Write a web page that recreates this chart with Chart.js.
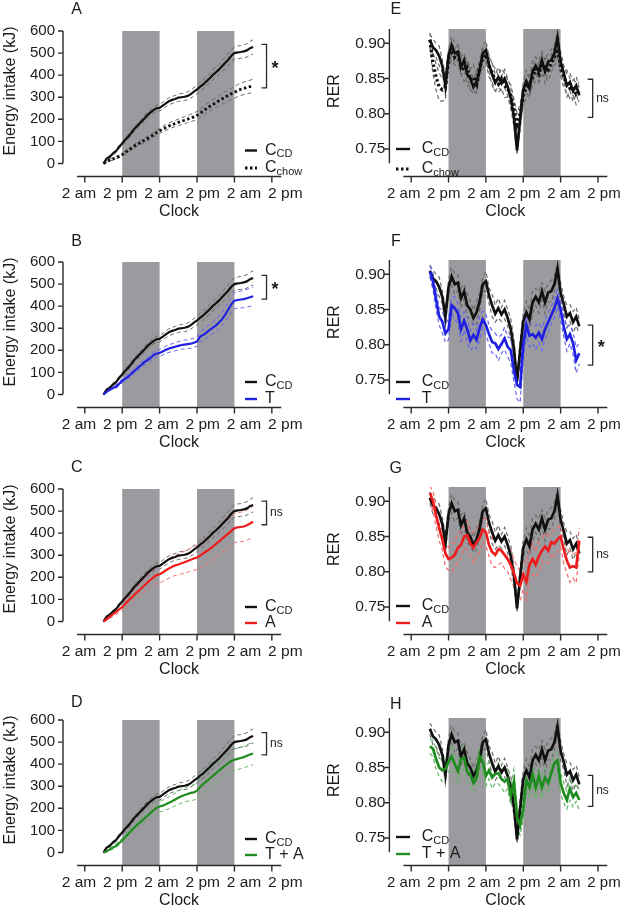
<!DOCTYPE html>
<html>
<head>
<meta charset="utf-8">
<script src="https://cdn.jsdelivr.net/npm/chart.js@4.4.1/dist/chart.umd.min.js"></script>
<style>
  body { margin: 0; background: #fff; width: 629px; height: 912px; overflow: hidden; position: relative; }
  canvas { position: absolute; }
</style>
</head>
<body>
<script>
// ---- data (hours counted from the first "2 am") ----
const HOURS = [6,7,8,9,10,11,12,13,14,15,16,17,18,19,20,21,22,23,24,25,26,27,28,29,30,
               31,32,33,34,35,36,37,38,39,40,41,42,43,44,45,46,47,48,49,50,51,52,53,54];
const TICK_HOURS = [0, 12, 24, 36, 48, 60];
const TICK_LABELS = ["2 am", "2 pm", "2 am", "2 pm", "2 am", "2 pm"];
const DARK_START = [12, 36];
const DARK_END = [24, 48];
const ENERGY_TICKS = [0, 100, 200, 300, 400, 500, 600];
const RER_TICKS = [0.75, 0.80, 0.85, 0.90];

// energy intake (kJ), mean and SEM
const ccdEnergy = [0,22,30,45,55,75,90,108,122,140, 158,172,188,202,218,230,242,250,252,262,
                   272,282,288,292,298,300,302,306,314,325, 335,348,358,372,385,400,412,425,440,455,
                   470,488,500,503,505,508,512,522,528];
const ccdEnergySem = [2,4,5,6,6,7,8,9,10,10, 11,11,12,12,13,13,14,14,15,15, 15,16,16,16,17,17,17,18,18,19,
                      19,20,20,21,22,22,23,24,25,26, 27,28,28,29,29,30,30,31,32];
const chowEnergy = [0,8,15,20,26,32,40,50,60,70, 80,88,96,104,112,120,130,140,148,156,
                    163,170,176,181,186,191,196,201,206,211, 218,228,238,248,258,266,275,284,292,300,
                    308,316,322,330,336,340,344,348,352];
const chowEnergySem = [1,3,4,5,5,6,6,7,7,8, 8,9,9,10,10,11,11,12,12,13, 13,14,14,14,15,15,16,16,17,17,
                       18,19,19,20,21,21,22,23,24,25, 25,26,27,27,28,28,29,29,30];
const tEnergy = [0,12,22,30,35,48,62,72,82,95, 108,120,132,145,155,165,178,185,188,195,
                 202,208,212,216,220,224,226,228,230,234, 240,262,270,280,292,302,312,325,340,360,
                 385,408,425,428,430,432,436,440,445];
const tEnergySem = [2,4,5,6,7,8,9,10,10,11, 12,12,13,13,14,14,15,15,16,16, 17,17,18,18,19,19,20,20,21,21,
                    22,23,24,25,26,27,28,29,30,32, 34,35,36,37,38,39,40,41,42];
const aEnergy = [0,10,22,32,42,55,65,80,95,108, 122,135,148,162,175,188,200,210,214,222,
                 232,240,248,254,258,264,268,274,280,285, 290,298,308,318,328,338,350,362,374,386,
                 398,410,422,426,428,430,436,444,452];
const aEnergySem = [3,6,8,10,12,13,15,17,19,21, 23,25,27,29,31,33,35,37,40,41, 42,44,45,46,47,48,50,51,52,53,
                    55,56,57,58,59,60,61,62,63,64, 64,65,65,66,67,68,68,69,70];
const taEnergy = [0,6,14,22,30,42,55,70,85,100, 114,128,140,152,165,178,190,202,208,212,
                  218,225,232,240,248,255,260,265,270,272, 280,296,310,322,334,346,358,370,382,394,
                  405,414,420,424,428,432,438,444,448];
const taEnergySem = [2,4,5,7,8,9,10,12,13,14, 15,16,17,18,19,20,21,22,24,25, 26,27,28,29,30,31,32,33,34,35,
                     36,37,38,39,40,41,42,43,44,45, 46,47,48,48,49,49,50,50,51];

// RER, mean and SEM
const ccdRer = [0.905,0.894,0.890,0.882,0.868,0.840,0.882,0.897,0.886,0.888,
                0.866,0.876,0.856,0.850,0.838,0.846,0.862,0.886,0.890,0.870,
                0.856,0.844,0.852,0.843,0.850,0.838,0.822,0.795,0.748,0.792,
                0.834,0.846,0.836,0.860,0.868,0.860,0.876,0.860,0.874,0.876,
                0.886,0.908,0.874,0.858,0.840,0.845,0.832,0.840,0.826];
const ccdRerSem = [0.008,0.012,0.010,0.014,0.009,0.012,0.010,0.013,0.015,0.011,
                   0.014,0.010,0.016,0.012,0.011,0.015,0.012,0.010,0.014,0.011,
                   0.016,0.012,0.014,0.010,0.013,0.012,0.015,0.012,0.006,0.014,
                   0.011,0.016,0.013,0.017,0.012,0.015,0.012,0.016,0.013,0.015,
                   0.012,0.010,0.014,0.011,0.016,0.012,0.015,0.013,0.010];
const chowRer = [0.905,0.872,0.852,0.838,0.834,0.838,0.878,0.890,0.880,0.884,
                 0.870,0.862,0.866,0.848,0.852,0.842,0.866,0.878,0.884,0.868,
                 0.858,0.848,0.842,0.850,0.840,0.836,0.826,0.808,0.785,0.800,
                 0.826,0.838,0.842,0.852,0.864,0.856,0.870,0.866,0.862,0.872,
                 0.880,0.892,0.868,0.850,0.846,0.836,0.838,0.828,0.832];
const chowRerSem = [0.010,0.016,0.018,0.020,0.016,0.018,0.012,0.014,0.011,0.015,
                    0.013,0.016,0.012,0.015,0.018,0.013,0.011,0.014,0.012,0.015,
                    0.013,0.016,0.012,0.014,0.017,0.012,0.015,0.013,0.016,0.014,
                    0.012,0.016,0.014,0.013,0.017,0.012,0.015,0.013,0.016,0.012,
                    0.014,0.012,0.015,0.013,0.016,0.014,0.012,0.015,0.013];
const tRer = [0.904,0.890,0.864,0.840,0.833,0.816,0.822,0.856,0.852,0.845,
              0.822,0.834,0.822,0.806,0.814,0.807,0.824,0.836,0.828,0.815,
              0.804,0.802,0.794,0.801,0.809,0.797,0.792,0.764,0.743,0.740,
              0.800,0.828,0.813,0.815,0.810,0.817,0.808,0.822,0.832,0.842,
              0.852,0.866,0.850,0.826,0.808,0.815,0.802,0.778,0.788];
const tRerSem = [0.008,0.012,0.014,0.012,0.016,0.013,0.015,0.012,0.016,0.014,
                 0.017,0.013,0.018,0.014,0.016,0.013,0.017,0.012,0.015,0.013,
                 0.016,0.014,0.017,0.013,0.016,0.014,0.018,0.016,0.020,0.022,
                 0.020,0.014,0.016,0.013,0.017,0.014,0.016,0.013,0.015,0.012,
                 0.014,0.012,0.016,0.014,0.017,0.013,0.016,0.018,0.015];
const aRer = [0.912,0.900,0.880,0.862,0.846,0.826,0.818,0.820,0.824,0.834,
              0.838,0.850,0.852,0.840,0.834,0.842,0.848,0.860,0.856,0.838,
              0.828,0.824,0.832,0.830,0.824,0.818,0.810,0.798,0.784,0.780,
              0.796,0.786,0.810,0.818,0.810,0.822,0.830,0.836,0.830,0.842,
              0.840,0.846,0.850,0.832,0.816,0.806,0.808,0.806,0.844];
const aRerSem = [0.010,0.014,0.016,0.018,0.015,0.019,0.016,0.020,0.017,0.021,
                 0.018,0.016,0.020,0.017,0.022,0.018,0.021,0.017,0.019,0.016,
                 0.020,0.018,0.022,0.017,0.020,0.018,0.021,0.019,0.024,0.022,
                 0.020,0.026,0.019,0.022,0.018,0.021,0.017,0.020,0.018,0.016,
                 0.019,0.017,0.015,0.020,0.018,0.021,0.017,0.022,0.018];
const taRer = [0.880,0.877,0.862,0.850,0.846,0.848,0.858,0.866,0.855,0.845,
               0.862,0.864,0.844,0.840,0.828,0.836,0.866,0.858,0.838,0.846,
               0.836,0.841,0.842,0.834,0.830,0.834,0.810,0.830,0.780,0.768,
               0.792,0.832,0.822,0.840,0.822,0.838,0.822,0.836,0.828,0.842,
               0.856,0.860,0.828,0.814,0.804,0.820,0.808,0.814,0.804];
const taRerSem = [0.010,0.012,0.015,0.013,0.016,0.012,0.014,0.017,0.013,0.016,
                  0.014,0.018,0.013,0.016,0.014,0.017,0.013,0.016,0.014,0.012,
                  0.016,0.013,0.015,0.012,0.016,0.014,0.013,0.017,0.015,0.014,
                  0.016,0.012,0.015,0.013,0.016,0.012,0.015,0.013,0.014,0.012,
                  0.016,0.013,0.015,0.014,0.013,0.016,0.014,0.012,0.015];

// ---- look ----
const FONT = 'Arial, "Liberation Sans", Helvetica, sans-serif';
const TXT = "#1c1c1c";
const BAND = "#9b9b9f";

const STYLE = {
  ccd:  { color: "#111111", sem: "#6a6a6a", dash: [],     width: 2.2, main: "C", sub: "CD" },
  chow: { color: "#111111", sem: "#6a6a6a", dash: [2.5, 2.5], width: 2.8, main: "C", sub: "chow" },
  t:    { color: "#2020e0", sem: "#6464f0", dash: [],     width: 2.2, main: "T", sub: "" },
  a:    { color: "#ee1c1c", sem: "#f26a6a", dash: [],     width: 2.2, main: "A", sub: "" },
  ta:   { color: "#1e8c1e", sem: "#64b464", dash: [],     width: 2.2, main: "T + A", sub: "" }
};

const COLS = [
  { left: 0,   width: 310, yWidth: 77,   yPad: 22, padRight: 27,   titleX: 10.5, letterX: 76.7,
    legLine: [245, 257], legText: 265, xlMin: -0.58, xlMax: 58.8, xFont: 15.5, yFont: 15 },
  { left: 310, width: 319, yWidth: 93.4, yPad: 18, padRight: 17.2, titleX: 25,   letterX: 85.8,
    legLine: [86, 100],  legText: 111.7, xlMin: -0.09, xlMax: 61.0, xFont: 15, yFont: 15.5 }
];

const panels = [
  { id: "A", col: 0, top: 0,   letterY: 10,   kind: "e", groups: [["ccd", ccdEnergy, ccdEnergySem], ["chow", chowEnergy, chowEnergySem]], legY: [150.5, 168], brk: [342, 539], mark: "*" },
  { id: "B", col: 0, top: 231, letterY: 10.7, kind: "e", groups: [["ccd", ccdEnergy, ccdEnergySem], ["t", tEnergy, tEnergySem]],          legY: [151, 168],   brk: [432, 539], mark: "*" },
  { id: "C", col: 0, top: 458, letterY: 9.5,  kind: "e", groups: [["ccd", ccdEnergy, ccdEnergySem], ["a", aEnergy, aEnergySem]],          legY: [149, 165],   brk: [438, 545], mark: "ns" },
  { id: "D", col: 0, top: 689, letterY: 13.5, kind: "e", groups: [["ccd", ccdEnergy, ccdEnergySem], ["ta", taEnergy, taEnergySem]],       legY: [150, 166],   brk: [442, 543], mark: "ns" },
  { id: "E", col: 1, top: 0,   letterY: 10,   kind: "r", groups: [["ccd", ccdRer, ccdRerSem], ["chow", chowRer, chowRerSem]],             legY: [149, 169],   brk: [0.795, 0.849], mark: "ns" },
  { id: "F", col: 1, top: 231, letterY: 10.7, kind: "r", groups: [["ccd", ccdRer, ccdRerSem], ["t", tRer, tRerSem]],                      legY: [151, 168],   brk: [0.771, 0.828], mark: "*" },
  { id: "G", col: 1, top: 458, letterY: 10.3, kind: "r", groups: [["ccd", ccdRer, ccdRerSem], ["a", aRer, aRerSem]],                      legY: [148, 165],   brk: [0.800, 0.849], mark: "ns" },
  { id: "H", col: 1, top: 689, letterY: 16,   kind: "r", groups: [["ccd", ccdRer, ccdRerSem], ["ta", taRer, taRerSem]],                   legY: [148, 165],   brk: [0.795, 0.839], mark: "ns" }
];

const BRACKET_HOUR = 58.3;

function pts(vals) {
  return HOURS.map((h, i) => ({ x: h, y: vals[i] }));
}
function semLine(vals, sem, sign) {
  return HOURS.map((h, i) => ({ x: h, y: vals[i] + sign * sem[i] }));
}

function drawLabel(ctx, x, y, main, sub) {
  ctx.textAlign = "left";
  ctx.textBaseline = "middle";
  ctx.font = "16px " + FONT;
  ctx.fillText(main, x, y);
  if (sub) {
    const w = ctx.measureText(main).width;
    ctx.font = "11px " + FONT;
    ctx.fillText(sub, x + w, y + 3.5);
  }
}

function decor(p) {
  const col = COLS[p.col];
  return {
    id: "decor" + p.id,
    beforeDatasetsDraw(chart) {
      const { ctx, chartArea: a, scales: { x } } = chart;
      ctx.save();
      ctx.fillStyle = BAND;
      DARK_START.forEach((s, i) => {
        const x0 = x.getPixelForValue(s), x1 = x.getPixelForValue(DARK_END[i]);
        ctx.fillRect(x0, a.top, x1 - x0, a.bottom - a.top);
      });
      ctx.restore();
    },
    afterDraw(chart) {
      const { ctx, chartArea: a, scales: { x, y } } = chart;
      ctx.save();
      // detached axes
      ctx.strokeStyle = "#2a2a2a";
      ctx.lineWidth = 1.4;
      const ax = a.left - 14;
      ctx.beginPath();
      ctx.moveTo(ax, a.top);
      ctx.lineTo(ax, a.bottom - 13.3);
      y.ticks.forEach(t => {
        const py = y.getPixelForValue(t.value);
        ctx.moveTo(ax - 5, py);
        ctx.lineTo(ax, py);
      });
      ctx.moveTo(a.left, a.bottom);
      ctx.lineTo(a.right, a.bottom);
      TICK_HOURS.forEach(h => {
        const px = x.getPixelForValue(h);
        ctx.moveTo(px, a.bottom);
        ctx.lineTo(px, a.bottom + 6);
      });
      ctx.stroke();

      // y title
      ctx.fillStyle = TXT;
      ctx.save();
      ctx.translate(col.titleX, 91);
      ctx.rotate(-Math.PI / 2);
      ctx.textAlign = "center";
      ctx.textBaseline = "middle";
      ctx.font = "16px " + FONT;
      ctx.fillText(p.kind === "e" ? "Energy intake (kJ)" : "RER", 0, 0);
      ctx.restore();

      // panel letter
      ctx.font = "16px " + FONT;
      ctx.textAlign = "center";
      ctx.textBaseline = "middle";
      ctx.fillText(p.id, col.letterX, p.letterY);

      // legend
      p.groups.forEach((g, i) => {
        const st = STYLE[g[0]];
        const ly = p.legY[i];
        ctx.strokeStyle = st.color;
        ctx.lineWidth = st.dash.length ? 2.8 : 2.4;
        ctx.setLineDash(st.dash);
        ctx.beginPath();
        ctx.moveTo(col.legLine[0], ly);
        ctx.lineTo(col.legLine[1], ly);
        ctx.stroke();
        ctx.setLineDash([]);
        ctx.fillStyle = TXT;
        drawLabel(ctx, col.legText, ly, st.main, st.sub);
      });

      // significance bracket
      const bx = x.getPixelForValue(BRACKET_HOUR);
      const yTop = y.getPixelForValue(p.brk[1]);
      const yBot = y.getPixelForValue(p.brk[0]);
      ctx.strokeStyle = "#2a2a2a";
      ctx.lineWidth = 1.3;
      ctx.beginPath();
      ctx.moveTo(bx - 5, yTop);
      ctx.lineTo(bx, yTop);
      ctx.lineTo(bx, yBot);
      ctx.lineTo(bx - 5, yBot);
      ctx.stroke();
      ctx.fillStyle = TXT;
      ctx.textAlign = "left";
      ctx.textBaseline = "middle";
      const mid = (yTop + yBot) / 2;
      if (p.mark === "*") {
        ctx.font = "bold 18px " + FONT;
        ctx.fillText("*", bx + 5, mid + 3);
      } else {
        ctx.font = "12px " + FONT;
        ctx.fillText("ns", bx + 3.5, mid);
      }
      ctx.restore();
    }
  };
}

panels.forEach(p => {
  const col = COLS[p.col];
  const canvas = document.createElement("canvas");
  canvas.width = col.width;
  canvas.height = 224;
  canvas.style.left = col.left + "px";
  canvas.style.top = p.top + "px";
  document.body.appendChild(canvas);

  const isE = p.kind === "e";
  const datasets = [];
  p.groups.forEach((g, gi) => {
    const st = STYLE[g[0]];
    [1, -1].forEach(sign => {
      datasets.push({
        data: semLine(g[1], g[2], sign),
        borderColor: st.sem, borderWidth: isE ? 1 : 1.2, borderDash: [4, 3],
        pointRadius: 0, fill: false, tension: 0, order: 3 - gi,
        xAxisID: "x", yAxisID: "y"
      });
    });
    datasets.push({
      data: pts(g[1]),
      borderColor: st.color, borderWidth: isE ? st.width : st.width + 0.5, borderDash: st.dash,
      pointRadius: 0, fill: false, tension: 0, order: 1 - gi,
      xAxisID: "x", yAxisID: "y"
    });
  });

  const yTicks = isE ? ENERGY_TICKS : RER_TICKS;

  new Chart(canvas.getContext("2d"), {
    type: "line",
    data: { datasets },
    options: {
      responsive: false,
      animation: false,
      events: [],
      layout: { padding: { left: 0, top: 29, right: col.padRight, bottom: 0 } },
      plugins: { legend: { display: false }, tooltip: { enabled: false } },
      scales: {
        x: {
          type: "linear", display: false, min: -2.5, max: 63, bounds: "data"
        },
        xl: {
          type: "linear", position: "bottom", min: col.xlMin, max: col.xlMax, bounds: "data",
          afterBuildTicks: s => { s.ticks = TICK_HOURS.map(v => ({ value: v })); },
          afterFit: s => { s.height = 47.5; },
          grid: { display: false, drawTicks: false },
          border: { display: false },
          ticks: {
            padding: 8, autoSkip: false, maxRotation: 0, color: TXT,
            font: { size: col.xFont, family: FONT },
            callback: (v, i) => TICK_LABELS[i]
          },
          title: { display: true, text: "Clock", color: TXT, font: { size: 16, family: FONT }, padding: { top: 0, bottom: 2.4 } }
        },
        y: {
          type: "linear", position: "left", bounds: "data",
          min: isE ? -59 : 0.711, max: isE ? 600 : 0.9203,
          afterBuildTicks: s => { s.ticks = yTicks.map(v => ({ value: v })); },
          afterFit: s => { s.width = col.yWidth; },
          grid: { display: false, drawTicks: false },
          border: { display: false },
          ticks: {
            padding: col.yPad, color: TXT, font: { size: col.yFont, family: FONT },
            callback: v => isE ? String(v) : v.toFixed(2)
          }
        }
      }
    },
    plugins: [decor(p)]
  });
});
</script>
</body>
</html>
